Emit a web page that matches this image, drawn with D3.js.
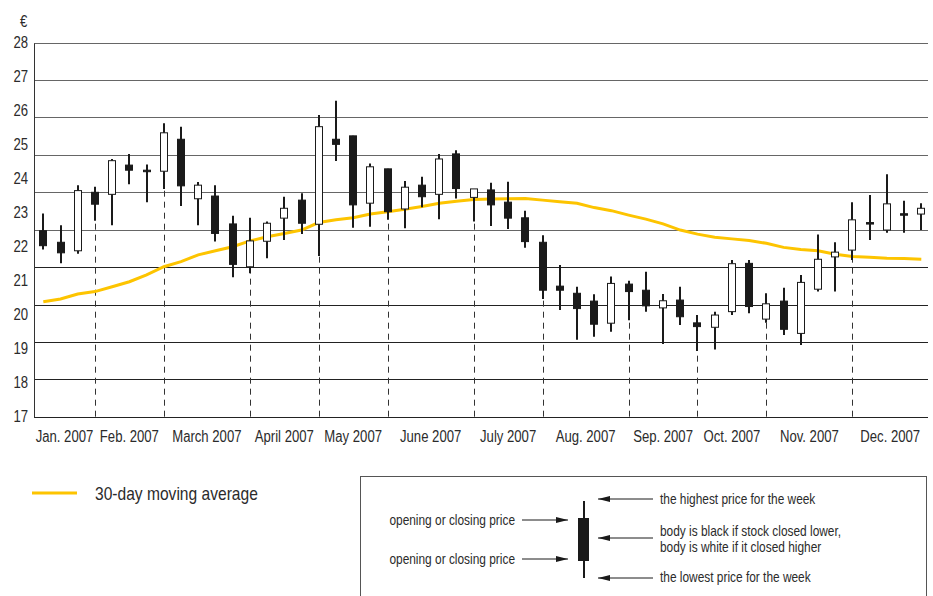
<!DOCTYPE html>
<html>
<head>
    <meta charset="utf-8">
    <title>share price 2007</title>
    <script type="text/javascript" src="https://cdn.jsdelivr.net/npm/d3@7"></script>
    <style>
      body { margin: 0; background: #fff; }
      text { font-family: 'Liberation Sans', Arial, sans-serif; fill: #2b2b2b; }
    </style>
</head>
<body>
<script type="text/javascript">

// weekly candles, Jan - Dec 2007
var open  = [22.47,22.13,21.88,23.60,23.54,24.40,24.25,24.22,25.16,23.41,23.49,22.67,21.41,22.16,22.84,23.37,22.66,25.16,25.26,23.28,24.29,23.11,23.81,23.54,24.73,23.45,
             23.67,23.31,22.85,22.13,20.84,20.63,20.40,19.75,20.90,20.72,20.20,20.43,19.76,19.63,20.09,21.51,19.87,20.40,19.45,20.75,21.70,21.90,22.71,22.49,22.97,22.96]
var high  = [22.98,22.63,23.81,23.76,24.58,24.73,24.42,25.63,25.53,23.90,23.81,22.91,22.85,22.74,23.47,23.57,25.87,26.29,25.26,24.45,24.29,23.93,24.06,24.73,24.84,23.70,
             23.88,23.91,23.06,22.34,21.46,20.82,20.60,21.12,21.00,21.26,20.61,20.82,19.99,20.09,21.61,21.61,20.63,20.79,21.17,22.36,22.13,23.31,23.52,24.13,23.35,23.28]
var low   = [21.92,21.51,21.79,22.76,22.63,23.84,23.31,23.70,23.20,22.63,22.15,21.10,21.22,21.66,22.20,22.37,21.73,24.52,22.56,22.59,22.79,22.54,23.16,22.81,23.42,22.74,
             22.61,22.52,21.97,20.46,20.14,19.26,19.35,19.50,19.84,20.09,19.14,19.70,18.93,18.98,19.99,20.04,19.76,19.40,19.11,20.68,20.68,21.61,22.20,22.41,22.41,22.49]
var close = [22.03,21.82,23.65,23.25,24.53,24.25,24.25,25.35,23.79,23.81,22.39,21.48,22.17,22.69,23.13,22.69,25.53,25.01,23.23,24.35,23.03,23.75,23.47,24.58,23.71,23.70,
             23.23,22.84,22.15,20.72,20.72,20.18,19.72,20.92,20.68,20.26,20.41,19.94,19.65,19.99,21.50,20.24,20.32,19.57,20.95,21.63,21.84,22.79,22.71,23.26,22.97,23.13]
var movingAvg = [20.38,20.46,20.61,20.68,20.82,20.97,21.17,21.41,21.56,21.76,21.88,22.00,22.17,22.29,22.39,22.49,22.71,22.79,22.85,22.96,23.03,23.10,23.18,23.28,23.34,23.39,
                 23.40,23.41,23.42,23.37,23.32,23.28,23.15,23.06,22.93,22.81,22.67,22.49,22.37,22.28,22.23,22.18,22.10,21.98,21.92,21.88,21.78,21.71,21.69,21.66,21.65,21.63]

var months = ["Jan. 2007","Feb. 2007","March 2007","April 2007","May 2007","June 2007","July 2007","Aug. 2007","Sep. 2007","Oct. 2007","Nov. 2007","Dec. 2007"]
var monthStart = [0,3,7,12,16,20,25,29,34,38,42,47]
var yLabels = [28,27,26,25,24,23,22,21,20,19,18,17]

var width = 933
var height = 596
var plotLeft = 34, plotRight = 928, plotTop = 42.7, plotBottom = 416.7

var svg = d3.select("body").append("svg").attr("width", width).attr("height", height)

var x = d3.scaleLinear().domain([0, 51]).range([43.3, 921.3])
var y = d3.scaleLinear().domain([17, 28]).range([plotBottom, plotTop])
var grid = d3.scaleLinear().domain([0, 10]).range([plotBottom, plotTop])

// horizontal rules
svg.selectAll(".grid")
    .data(d3.range(11))
    .enter()
    .append("line")
    .attr("x1", plotLeft).attr("x2", plotRight)
    .attr("y1", function(d) { return Math.round(grid(d)) + 0.5 })
    .attr("y2", function(d) { return Math.round(grid(d)) + 0.5 })
    .attr("stroke", function(d) { return d < 5 ? "#222" : "#666" })
    .attr("stroke-width", 1)

svg.append("line")
    .attr("x1", plotLeft + 0.5).attr("x2", plotLeft + 0.5)
    .attr("y1", Math.round(plotTop) + 0.5).attr("y2", Math.round(plotBottom) + 0.5)
    .attr("stroke", "#333")

// y labels
svg.selectAll(".ylab")
    .data(yLabels)
    .enter()
    .append("text")
    .attr("x", 28)
    .attr("y", function(d) { return y(d) })
    .attr("dy", "0.36em")
    .attr("text-anchor", "end")
    .attr("font-size", 16)
    .text(function(d) { return d })

svg.append("text").attr("x", 20).attr("y", 27).attr("font-size", 16).text("€")

// month separators, dashed up to the low of the first week
svg.selectAll(".sep")
    .data(monthStart.slice(1))
    .enter()
    .append("line")
    .attr("x1", function(d) { return Math.round(x(d)) + 0.5 })
    .attr("x2", function(d) { return Math.round(x(d)) + 0.5 })
    .attr("y1", plotBottom)
    .attr("y2", function(d) { return y(low[d]) })
    .attr("stroke", "#333")
    .attr("stroke-dasharray", "6,5")

var bounds = [plotLeft].concat(monthStart.slice(1).map(function(d) { return x(d) })).concat([plotRight])
svg.selectAll(".mlab")
    .data(months)
    .enter()
    .append("text")
    .attr("x", function(d, i) { return (bounds[i] + bounds[i + 1]) / 2 })
    .attr("y", 442)
    .attr("text-anchor", "middle")
    .attr("font-size", 16)
    .text(function(d) { return d })

// moving average
var line = d3.line()
    .x(function(d, i) { return x(i) })
    .y(function(d) { return y(d) })

svg.append("path")
    .attr("d", line(movingAvg))
    .attr("fill", "none")
    .attr("stroke", "#fdc400")
    .attr("stroke-width", 3)

// candles
var weeks = d3.range(open.length)
svg.selectAll(".wick")
    .data(weeks)
    .enter()
    .append("line")
    .attr("x1", function(i) { return Math.round(x(i)) })
    .attr("x2", function(i) { return Math.round(x(i)) })
    .attr("y1", function(i) { return y(high[i]) })
    .attr("y2", function(i) { return y(low[i]) })
    .attr("stroke", "#1a1a1a")
    .attr("stroke-width", 2)

svg.selectAll(".body")
    .data(weeks)
    .enter()
    .append("rect")
    .attr("x", function(i) { return Math.round(x(i)) - 3.5 })
    .attr("width", 7)
    .attr("y", function(i) { return y(Math.max(open[i], close[i])) })
    .attr("height", function(i) { return Math.max(1.5, Math.abs(y(open[i]) - y(close[i]))) })
    .attr("fill", function(i) { return close[i] > open[i] ? "#fff" : "#1a1a1a" })
    .attr("stroke", "#1a1a1a")
    .attr("stroke-width", 1)

// legend: moving average
svg.append("line")
    .attr("x1", 32).attr("x2", 77).attr("y1", 493).attr("y2", 493)
    .attr("stroke", "#fdc400").attr("stroke-width", 3)
svg.append("text").attr("x", 95).attr("y", 500).attr("font-size", 19).text("30-day moving average")

// legend: how to read a candle
svg.append("defs").append("marker")
    .attr("id", "arrow")
    .attr("viewBox", "0 0 12 8")
    .attr("refX", 12).attr("refY", 4)
    .attr("markerWidth", 12).attr("markerHeight", 8)
    .attr("markerUnits", "userSpaceOnUse")
    .attr("orient", "auto")
    .append("path").attr("d", "M0,1 L12,4 L0,7 Z").attr("fill", "#1a1a1a")

svg.append("rect")
    .attr("x", 360.5).attr("y", 476.5).attr("width", 566).attr("height", 140)
    .attr("fill", "none").attr("stroke", "#555")

svg.append("line").attr("x1", 584).attr("x2", 584).attr("y1", 501).attr("y2", 578)
    .attr("stroke", "#1a1a1a").attr("stroke-width", 2)
svg.append("rect").attr("x", 578).attr("y", 518).attr("width", 11).attr("height", 43).attr("fill", "#1a1a1a")

var leftNotes = [["opening or closing price", 520], ["opening or closing price", 559]]
leftNotes.forEach(function(n) {
    svg.append("line").attr("x1", 522).attr("x2", 568).attr("y1", n[1]).attr("y2", n[1])
        .attr("stroke", "#1a1a1a").attr("marker-end", "url(#arrow)")
    svg.append("text").attr("x", 515).attr("y", n[1]).attr("dy", "0.35em")
        .attr("text-anchor", "end").attr("font-size", 14.5).text(n[0])
})

var rightNotes = [["the highest price for the week", 499], ["body is black if stock closed lower,", 538], ["the lowest price for the week", 578]]
rightNotes.forEach(function(n) {
    svg.append("line").attr("x1", 653).attr("x2", 598).attr("y1", n[1]).attr("y2", n[1])
        .attr("stroke", "#1a1a1a").attr("marker-end", "url(#arrow)")
})
svg.append("text").attr("x", 660).attr("y", 499).attr("dy", "0.35em").attr("font-size", 14.5).text(rightNotes[0][0])
svg.append("text").attr("x", 660).attr("y", 531).attr("dy", "0.35em").attr("font-size", 14.5).text(rightNotes[1][0])
svg.append("text").attr("x", 660).attr("y", 547).attr("dy", "0.35em").attr("font-size", 14.5).text("body is white if it closed higher")
svg.append("text").attr("x", 660).attr("y", 577).attr("dy", "0.35em").attr("font-size", 14.5).text(rightNotes[2][0])

// the original type is a condensed face; squeeze every label to match
svg.selectAll("text").each(function() {
    var len = this.getComputedTextLength()
    d3.select(this).attr("textLength", len * 0.82).attr("lengthAdjust", "spacingAndGlyphs")
})

</script>
</body>
</html>
